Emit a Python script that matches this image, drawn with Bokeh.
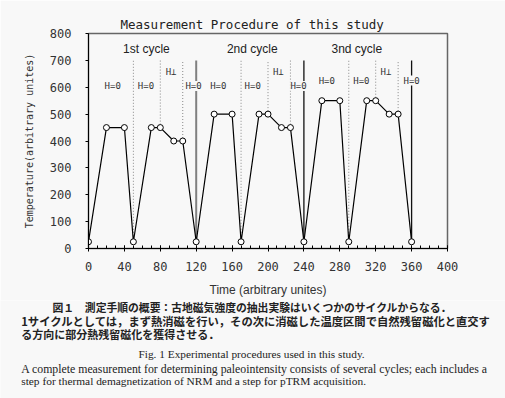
from bokeh.plotting import figure
from bokeh.models import Label, FixedTicker, Range1d
from bokeh.core.properties import value
from bokeh.embed import file_html
from bokeh.resources import INLINE

# ---- data ----
time = [0, 20, 40, 50, 70, 80, 95, 105, 120, 140, 160, 170, 190, 200, 215, 225,
        240, 260, 280, 290, 310, 320, 335, 345, 360]
temp = [25, 450, 450, 25, 450, 450, 400, 400, 25, 500, 500, 25, 500, 500, 450, 450,
        25, 550, 550, 25, 550, 550, 500, 500, 25]

dotted_x = [50, 80, 105, 170, 200, 225, 290, 320, 345]
dotted_bottom = [25, 450, 400, 25, 500, 450, 25, 550, 500]
solid_x = [120, 240, 360]
solid_bottom = [25, 25, 25]
guide_top = 700

cycle_names = ["1st cycle", "2nd cycle", "3nd cycle"]
cycle_x = [64.5, 182.5, 299]
cycle_y = 743

h_text = ["H=0", "H=0", "H⊥", "H=0",
          "H=0", "H=0", "H⊥", "H=0",
          "H=0", "H=0", "H⊥", "H=0"]
h_x = [27, 64, 92, 117, 144.6, 183, 211.5, 234, 265.5, 304, 331.5, 360]
h_y = [605, 605, 656, 605, 605, 605, 656, 605, 625, 625, 656, 625]

x_ticks = [0, 40, 80, 120, 160, 200, 240, 280, 320, 360, 400]
x_minor = list(range(0, 401, 10))
y_ticks = [0, 100, 200, 300, 400, 500, 600, 700, 800]

title_text = "Measurement Procedure of this study"
jp_lines = ["図１　測定手順の概要：古地磁気強度の抽出実験はいくつかのサイクルからなる．",
            "1サイクルとしては，まず熱消磁を行い，その次に消磁した温度区間で自然残留磁化と直交す",
            "る方向に部分熱残留磁化を獲得させる．"]
en_lines = ["Fig. 1  Experimental procedures used in this study.",
            "A complete measurement for determining paleointensity consists of several cycles; each includes a",
            "step for thermal demagnetization of NRM and a step for pTRM acquisition."]

BG = "#f8f8f8"
MONO = "DejaVu Sans Mono"
SANS = "Liberation Sans"
JP = "Noto Sans CJK JP"
SERIF = "Liberation Serif"
solid_colors = ["#808080", "#111111", "#111111"]
solid_widths = [2, 1.3, 1.3]

# ---- chart figure ----
W, H1, H2 = 505, 300, 98
FL, FR, FT, FB = 88, 447, 33, 248

p = figure(width=W, height=H1, frame_width=FR - FL, frame_height=FB - FT,
           output_backend="svg", toolbar_location=None,
           x_range=Range1d(0, 400), y_range=Range1d(0, 800),
           min_border_left=FL, min_border_right=W - FR,
           min_border_top=FT, min_border_bottom=H1 - FB)
p.background_fill_color = BG
p.border_fill_color = BG
p.outline_line_color = "#666666"
p.outline_line_width = 1.5
p.grid.visible = False

p.title.text = title_text
p.title.text_font = MONO
p.title.text_font_size = "12.5px"
p.title.text_font_style = "normal"
p.title.text_color = "#222222"
p.title.align = "left"
p.title.offset = 32
p.title.standoff = 3

p.xaxis.ticker = FixedTicker(ticks=x_ticks, minor_ticks=x_minor)
p.yaxis.ticker = FixedTicker(ticks=y_ticks, minor_ticks=[])
for ax in (p.xaxis, p.yaxis):
    ax.axis_line_color = "black"
    ax.major_tick_line_color = "black"
    ax.minor_tick_line_color = "black"
    ax.major_label_text_font = MONO
    ax.major_label_text_font_size = "12px"
    ax.major_label_text_color = "#333333"
p.xaxis.major_tick_in = 3
p.xaxis.major_tick_out = 3
p.xaxis.minor_tick_in = 3
p.xaxis.minor_tick_out = 0
p.xaxis.major_label_standoff = 10
p.yaxis.major_tick_in = 0
p.yaxis.major_tick_out = 3
p.yaxis.minor_tick_in = 0
p.yaxis.minor_tick_out = 0
p.yaxis.major_label_standoff = 14

p.xaxis.axis_label = "Time (arbitrary unites)"
p.xaxis.axis_label_text_font = SANS
p.xaxis.axis_label_text_font_size = "12px"
p.xaxis.axis_label_text_font_style = "normal"
p.xaxis.axis_label_text_color = "#333333"
p.xaxis.axis_label_standoff = 9

p.yaxis.axis_label = "Temperature(arbitrary unites)"
p.yaxis.axis_label_text_font = MONO
p.yaxis.axis_label_text_font_size = "10px"
p.yaxis.axis_label_text_font_style = "normal"
p.yaxis.axis_label_text_color = "#333333"
p.yaxis.axis_label_standoff = 12

# vertical guide lines
p.segment(x0=dotted_x, y0=dotted_bottom, x1=dotted_x, y1=[guide_top] * len(dotted_x),
          line_color="#888888", line_width=1, line_dash="1 2")
p.segment(x0=solid_x, y0=solid_bottom, x1=solid_x, y1=[guide_top] * len(solid_x),
          line_color=solid_colors, line_width=solid_widths)

# the curve
p.line(time, temp, line_color="black", line_width=1.2)
p.scatter(time, temp, size=6, fill_color="white", line_color="black", line_width=1)

for name, cx in zip(cycle_names, cycle_x):
    p.add_layout(Label(x=cx, y=cycle_y, text=name, text_font=SANS, text_font_size="12px",
                       text_color="#222222", text_align="center", text_baseline="middle"))
for t, hx, hy in zip(h_text, h_x, h_y):
    p.add_layout(Label(x=hx, y=hy, text=t, text_font=MONO, text_font_size="9px",
                       text_color="#333333", text_align="center", text_baseline="middle",
                       background_fill_color=BG, background_fill_alpha=1.0))

# ---- caption figure (pixel coordinates, y downward), separate root ----
c = figure(width=W, height=H2, output_backend="svg", toolbar_location=None,
           x_range=Range1d(0, W), y_range=Range1d(H2, 0),
           x_axis_type=None, y_axis_type=None, min_border=0)
c.background_fill_color = BG
c.border_fill_color = BG
c.outline_line_color = None
c.grid.visible = False

c.text(x=[251.7], y=[6.7], text=[jp_lines[0]], text_font=value(JP),
       text_font_size="10.8px", text_font_style="bold", text_color="#222222",
       text_align="center", text_baseline="middle")
c.text(x=[20.7], y=[20], text=[jp_lines[1]], text_font=value(JP),
       text_font_size="11.3px", text_font_style="bold", text_color="#222222",
       text_align="left", text_baseline="middle")
c.text(x=[20.7], y=[33.3], text=[jp_lines[2]], text_font=value(JP),
       text_font_size="11px", text_font_style="bold", text_color="#222222",
       text_align="left", text_baseline="middle")
c.text(x=[252.5], y=[53.3], text=[en_lines[0]], text_font=value(SERIF),
       text_font_size="11.3px", text_color="#222222",
       text_align="center", text_baseline="middle")
c.text(x=[20.7], y=[68.3], text=[en_lines[1]], text_font=value(SERIF),
       text_font_size="11.8px", text_color="#222222",
       text_align="left", text_baseline="middle")
c.text(x=[20.7], y=[80.7], text=[en_lines[2]], text_font=value(SERIF),
       text_font_size="11.4px", text_color="#222222",
       text_align="left", text_baseline="middle")

open("out.html", "w").write(file_html([p, c], INLINE))
